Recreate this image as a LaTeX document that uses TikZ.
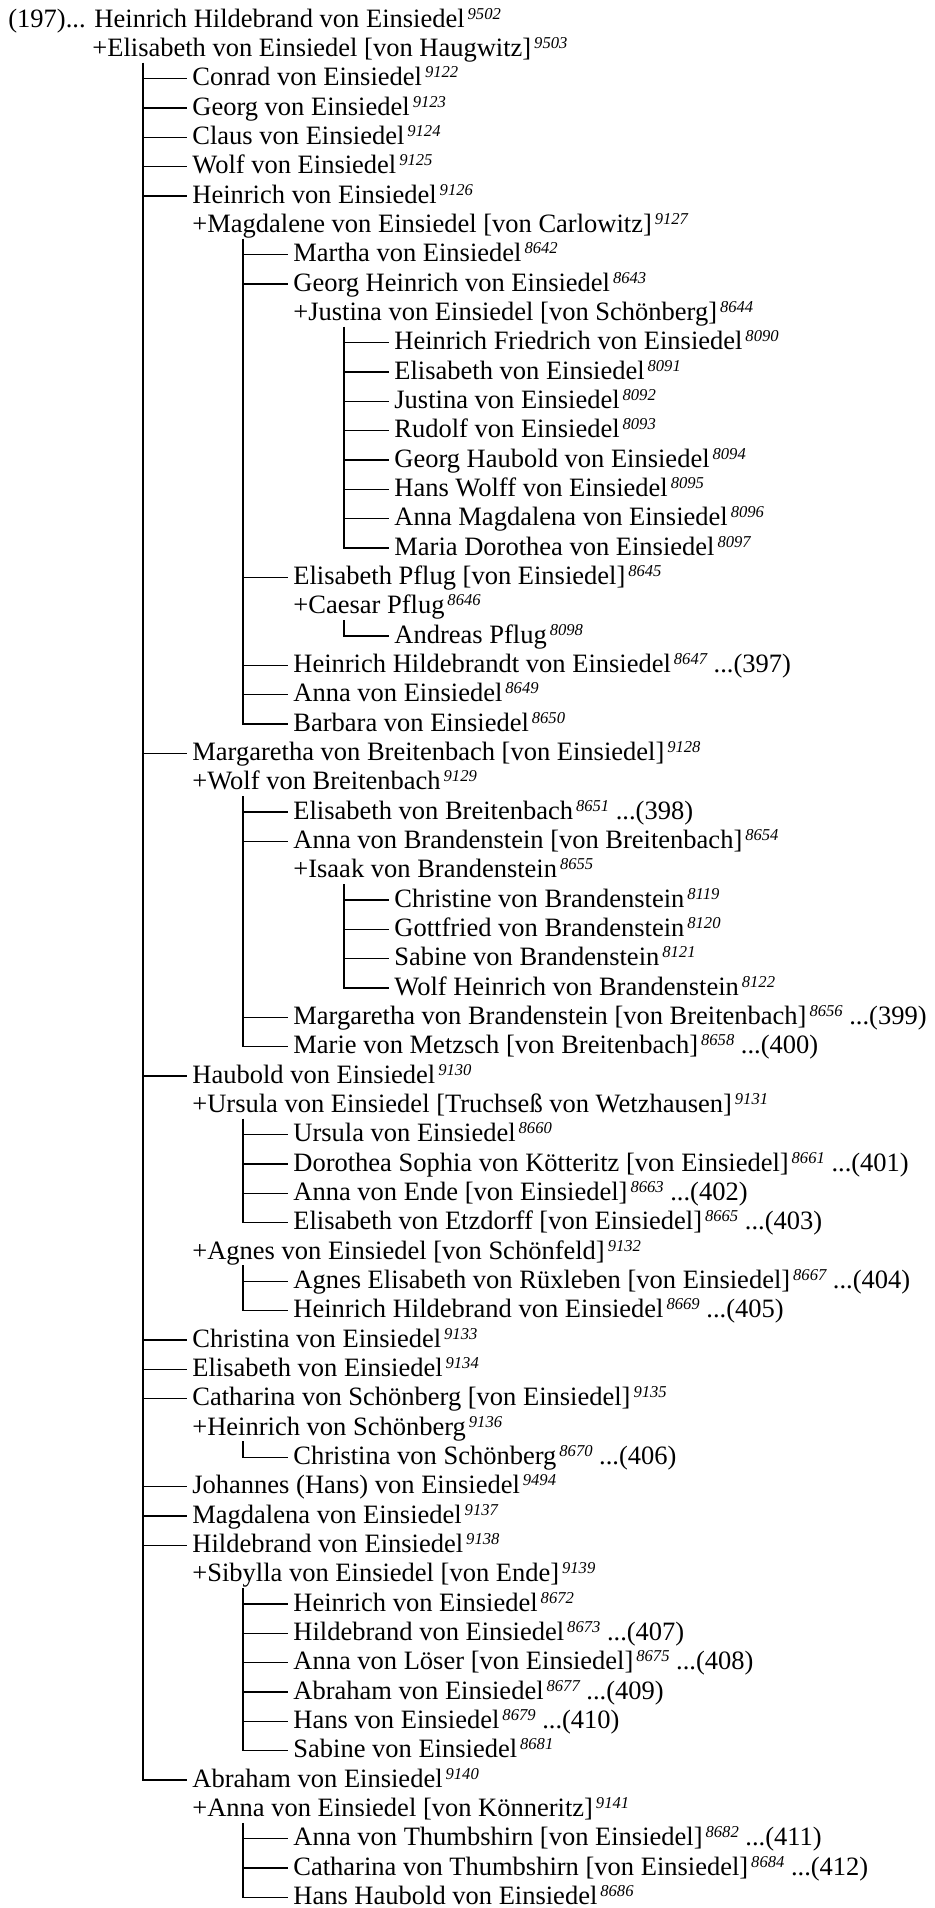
\documentclass[tikz,border=0pt]{standalone}
\usepackage{fontspec}
\setmainfont{Liberation Serif}
\newcommand{\idx}[1]{\kern1.5pt\raisebox{4pt}{\fontsize{8.3}{9}\selectfont\itshape #1}}
\tikzset{
  pers/.style={anchor=base west, inner xsep=2.5pt, inner ysep=0pt,
    text height=10pt, text depth=3pt, font=\fontsize{13.25}{15}\selectfont},
  link/.style={line width=0.7pt, color=black}
}

\begin{document}
\begin{tikzpicture}[x=0.5pt, y=-14.6667pt]
      \useasboundingbox (0,0.0795) rectangle (935,65.125);

      % root and spouse
      \node[pers] (n1) at (3,1) {(197)... Heinrich Hildebrand von Einsiedel\idx{9502}};
      \node[pers] (n2) at (87,2) {+Elisabeth von Einsiedel [von Haugwitz]\idx{9503}};

      \node[pers] (n3) at (187,3) {Conrad von Einsiedel\idx{9122}};
      \node[pers] (n4) at (187,4) {Georg von Einsiedel\idx{9123}};
      \node[pers] (n5) at (187,5) {Claus von Einsiedel\idx{9124}};
      \node[pers] (n6) at (187,6) {Wolf von Einsiedel\idx{9125}};
      \node[pers] (n7) at (187,7) {Heinrich von Einsiedel\idx{9126}};
      \node[pers] (n8) at (187,8) {+Magdalene von Einsiedel [von Carlowitz]\idx{9127}};
      \node[pers] (n9) at (288,9) {Martha von Einsiedel\idx{8642}};
      \node[pers] (n10) at (288,10) {Georg Heinrich von Einsiedel\idx{8643}};
      \node[pers] (n11) at (288,11) {+Justina von Einsiedel [von Schönberg]\idx{8644}};
      \node[pers] (n12) at (389,12) {Heinrich Friedrich von Einsiedel\idx{8090}};
      \node[pers] (n13) at (389,13) {Elisabeth von Einsiedel\idx{8091}};
      \node[pers] (n14) at (389,14) {Justina von Einsiedel\idx{8092}};
      \node[pers] (n15) at (389,15) {Rudolf von Einsiedel\idx{8093}};
      \node[pers] (n16) at (389,16) {Georg Haubold von Einsiedel\idx{8094}};
      \node[pers] (n17) at (389,17) {Hans Wolff von Einsiedel\idx{8095}};
      \node[pers] (n18) at (389,18) {Anna Magdalena von Einsiedel\idx{8096}};
      \node[pers] (n19) at (389,19) {Maria Dorothea von Einsiedel\idx{8097}};
      \node[pers] (n20) at (288,20) {Elisabeth Pflug [von Einsiedel]\idx{8645}};
      \node[pers] (n21) at (288,21) {+Caesar Pflug\idx{8646}};
      \node[pers] (n22) at (389,22) {Andreas Pflug\idx{8098}};
      \node[pers] (n23) at (288,23) {Heinrich Hildebrandt von Einsiedel\idx{8647} ...(397)};
      \node[pers] (n24) at (288,24) {Anna von Einsiedel\idx{8649}};
      \node[pers] (n25) at (288,25) {Barbara von Einsiedel\idx{8650}};

      \node[pers] (n26) at (187,26) {Margaretha von Breitenbach [von Einsiedel]\idx{9128}};
      \node[pers] (n27) at (187,27) {+Wolf von Breitenbach\idx{9129}};
      \node[pers] (n28) at (288,28) {Elisabeth von Breitenbach\idx{8651} ...(398)};
      \node[pers] (n29) at (288,29) {Anna von Brandenstein [von Breitenbach]\idx{8654}};
      \node[pers] (n30) at (288,30) {+Isaak von Brandenstein\idx{8655}};
      \node[pers] (n31) at (389,31) {Christine von Brandenstein\idx{8119}};
      \node[pers] (n32) at (389,32) {Gottfried von Brandenstein\idx{8120}};
      \node[pers] (n33) at (389,33) {Sabine von Brandenstein\idx{8121}};
      \node[pers] (n34) at (389,34) {Wolf Heinrich von Brandenstein\idx{8122}};
      \node[pers] (n35) at (288,35) {Margaretha von Brandenstein [von Breitenbach]\idx{8656} ...(399)};
      \node[pers] (n36) at (288,36) {Marie von Metzsch [von Breitenbach]\idx{8658} ...(400)};

      \node[pers] (n37) at (187,37) {Haubold von Einsiedel\idx{9130}};
      \node[pers] (n38) at (187,38) {+Ursula von Einsiedel [Truchseß von Wetzhausen]\idx{9131}};
      \node[pers] (n39) at (288,39) {Ursula von Einsiedel\idx{8660}};
      \node[pers] (n40) at (288,40) {Dorothea Sophia von Kötteritz [von Einsiedel]\idx{8661} ...(401)};
      \node[pers] (n41) at (288,41) {Anna von Ende [von Einsiedel]\idx{8663} ...(402)};
      \node[pers] (n42) at (288,42) {Elisabeth von Etzdorff [von Einsiedel]\idx{8665} ...(403)};
      \node[pers] (n43) at (187,43) {+Agnes von Einsiedel [von Schönfeld]\idx{9132}};
      \node[pers] (n44) at (288,44) {Agnes Elisabeth von Rüxleben [von Einsiedel]\idx{8667} ...(404)};
      \node[pers] (n45) at (288,45) {Heinrich Hildebrand von Einsiedel\idx{8669} ...(405)};

      \node[pers] (n46) at (187,46) {Christina von Einsiedel\idx{9133}};
      \node[pers] (n47) at (187,47) {Elisabeth von Einsiedel\idx{9134}};
      \node[pers] (n48) at (187,48) {Catharina von Schönberg [von Einsiedel]\idx{9135}};
      \node[pers] (n49) at (187,49) {+Heinrich von Schönberg\idx{9136}};
      \node[pers] (n50) at (288,50) {Christina von Schönberg\idx{8670} ...(406)};
      \node[pers] (n51) at (187,51) {Johannes (Hans) von Einsiedel\idx{9494}};
      \node[pers] (n52) at (187,52) {Magdalena von Einsiedel\idx{9137}};
      \node[pers] (n53) at (187,53) {Hildebrand von Einsiedel\idx{9138}};
      \node[pers] (n54) at (187,54) {+Sibylla von Einsiedel [von Ende]\idx{9139}};
      \node[pers] (n55) at (288,55) {Heinrich von Einsiedel\idx{8672}};
      \node[pers] (n56) at (288,56) {Hildebrand von Einsiedel\idx{8673} ...(407)};
      \node[pers] (n57) at (288,57) {Anna von Löser [von Einsiedel]\idx{8675} ...(408)};
      \node[pers] (n58) at (288,58) {Abraham von Einsiedel\idx{8677} ...(409)};
      \node[pers] (n59) at (288,59) {Hans von Einsiedel\idx{8679} ...(410)};
      \node[pers] (n60) at (288,60) {Sabine von Einsiedel\idx{8681}};
      \node[pers] (n61) at (187,61) {Abraham von Einsiedel\idx{9140}};
      \node[pers] (n62) at (187,62) {+Anna von Einsiedel [von Könneritz]\idx{9141}};
      \node[pers] (n63) at (288,63) {Anna von Thumbshirn [von Einsiedel]\idx{8682} ...(411)};
      \node[pers] (n64) at (288,64) {Catharina von Thumbshirn [von Einsiedel]\idx{8684} ...(412)};
      \node[pers] (n65) at (288,65) {Hans Haubold von Einsiedel\idx{8686}};

      % tree lines
      \coordinate (v2) at ([xshift=28pt]n2.south west);
      \coordinate (v8) at ([xshift=28pt]n8.south west);
      \coordinate (v11) at ([xshift=28pt]n11.south west);
      \coordinate (v21) at ([xshift=28pt]n21.south west);
      \coordinate (v27) at ([xshift=28pt]n27.south west);
      \coordinate (v30) at ([xshift=28pt]n30.south west);
      \coordinate (v38) at ([xshift=28pt]n38.south west);
      \coordinate (v43) at ([xshift=28pt]n43.south west);
      \coordinate (v49) at ([xshift=28pt]n49.south west);
      \coordinate (v54) at ([xshift=28pt]n54.south west);
      \coordinate (v62) at ([xshift=28pt]n62.south west);

      \draw[link] (v2) |- (n3.west) (v2) |- (n4.west) (v2) |- (n5.west) (v2) |- (n6.west)
        (v2) |- (n7.west) (v2) |- (n26.west) (v2) |- (n37.west) (v2) |- (n46.west)
        (v2) |- (n47.west) (v2) |- (n48.west) (v2) |- (n51.west) (v2) |- (n52.west)
        (v2) |- (n53.west) (v2) |- (n61.west);
      \draw[link] (v8) |- (n9.west) (v8) |- (n10.west) (v8) |- (n20.west)
        (v8) |- (n23.west) (v8) |- (n24.west) (v8) |- (n25.west);
      \draw[link] (v11) |- (n12.west) (v11) |- (n13.west) (v11) |- (n14.west) (v11) |- (n15.west)
        (v11) |- (n16.west) (v11) |- (n17.west) (v11) |- (n18.west) (v11) |- (n19.west);
      \draw[link] (v21) |- (n22.west);
      \draw[link] (v27) |- (n28.west) (v27) |- (n29.west) (v27) |- (n35.west) (v27) |- (n36.west);
      \draw[link] (v30) |- (n31.west) (v30) |- (n32.west) (v30) |- (n33.west) (v30) |- (n34.west);
      \draw[link] (v38) |- (n39.west) (v38) |- (n40.west) (v38) |- (n41.west) (v38) |- (n42.west);
      \draw[link] (v43) |- (n44.west) (v43) |- (n45.west);
      \draw[link] (v49) |- (n50.west);
      \draw[link] (v54) |- (n55.west) (v54) |- (n56.west) (v54) |- (n57.west)
        (v54) |- (n58.west) (v54) |- (n59.west) (v54) |- (n60.west);
      \draw[link] (v62) |- (n63.west) (v62) |- (n64.west) (v62) |- (n65.west);

\end{tikzpicture}
\end{document}
